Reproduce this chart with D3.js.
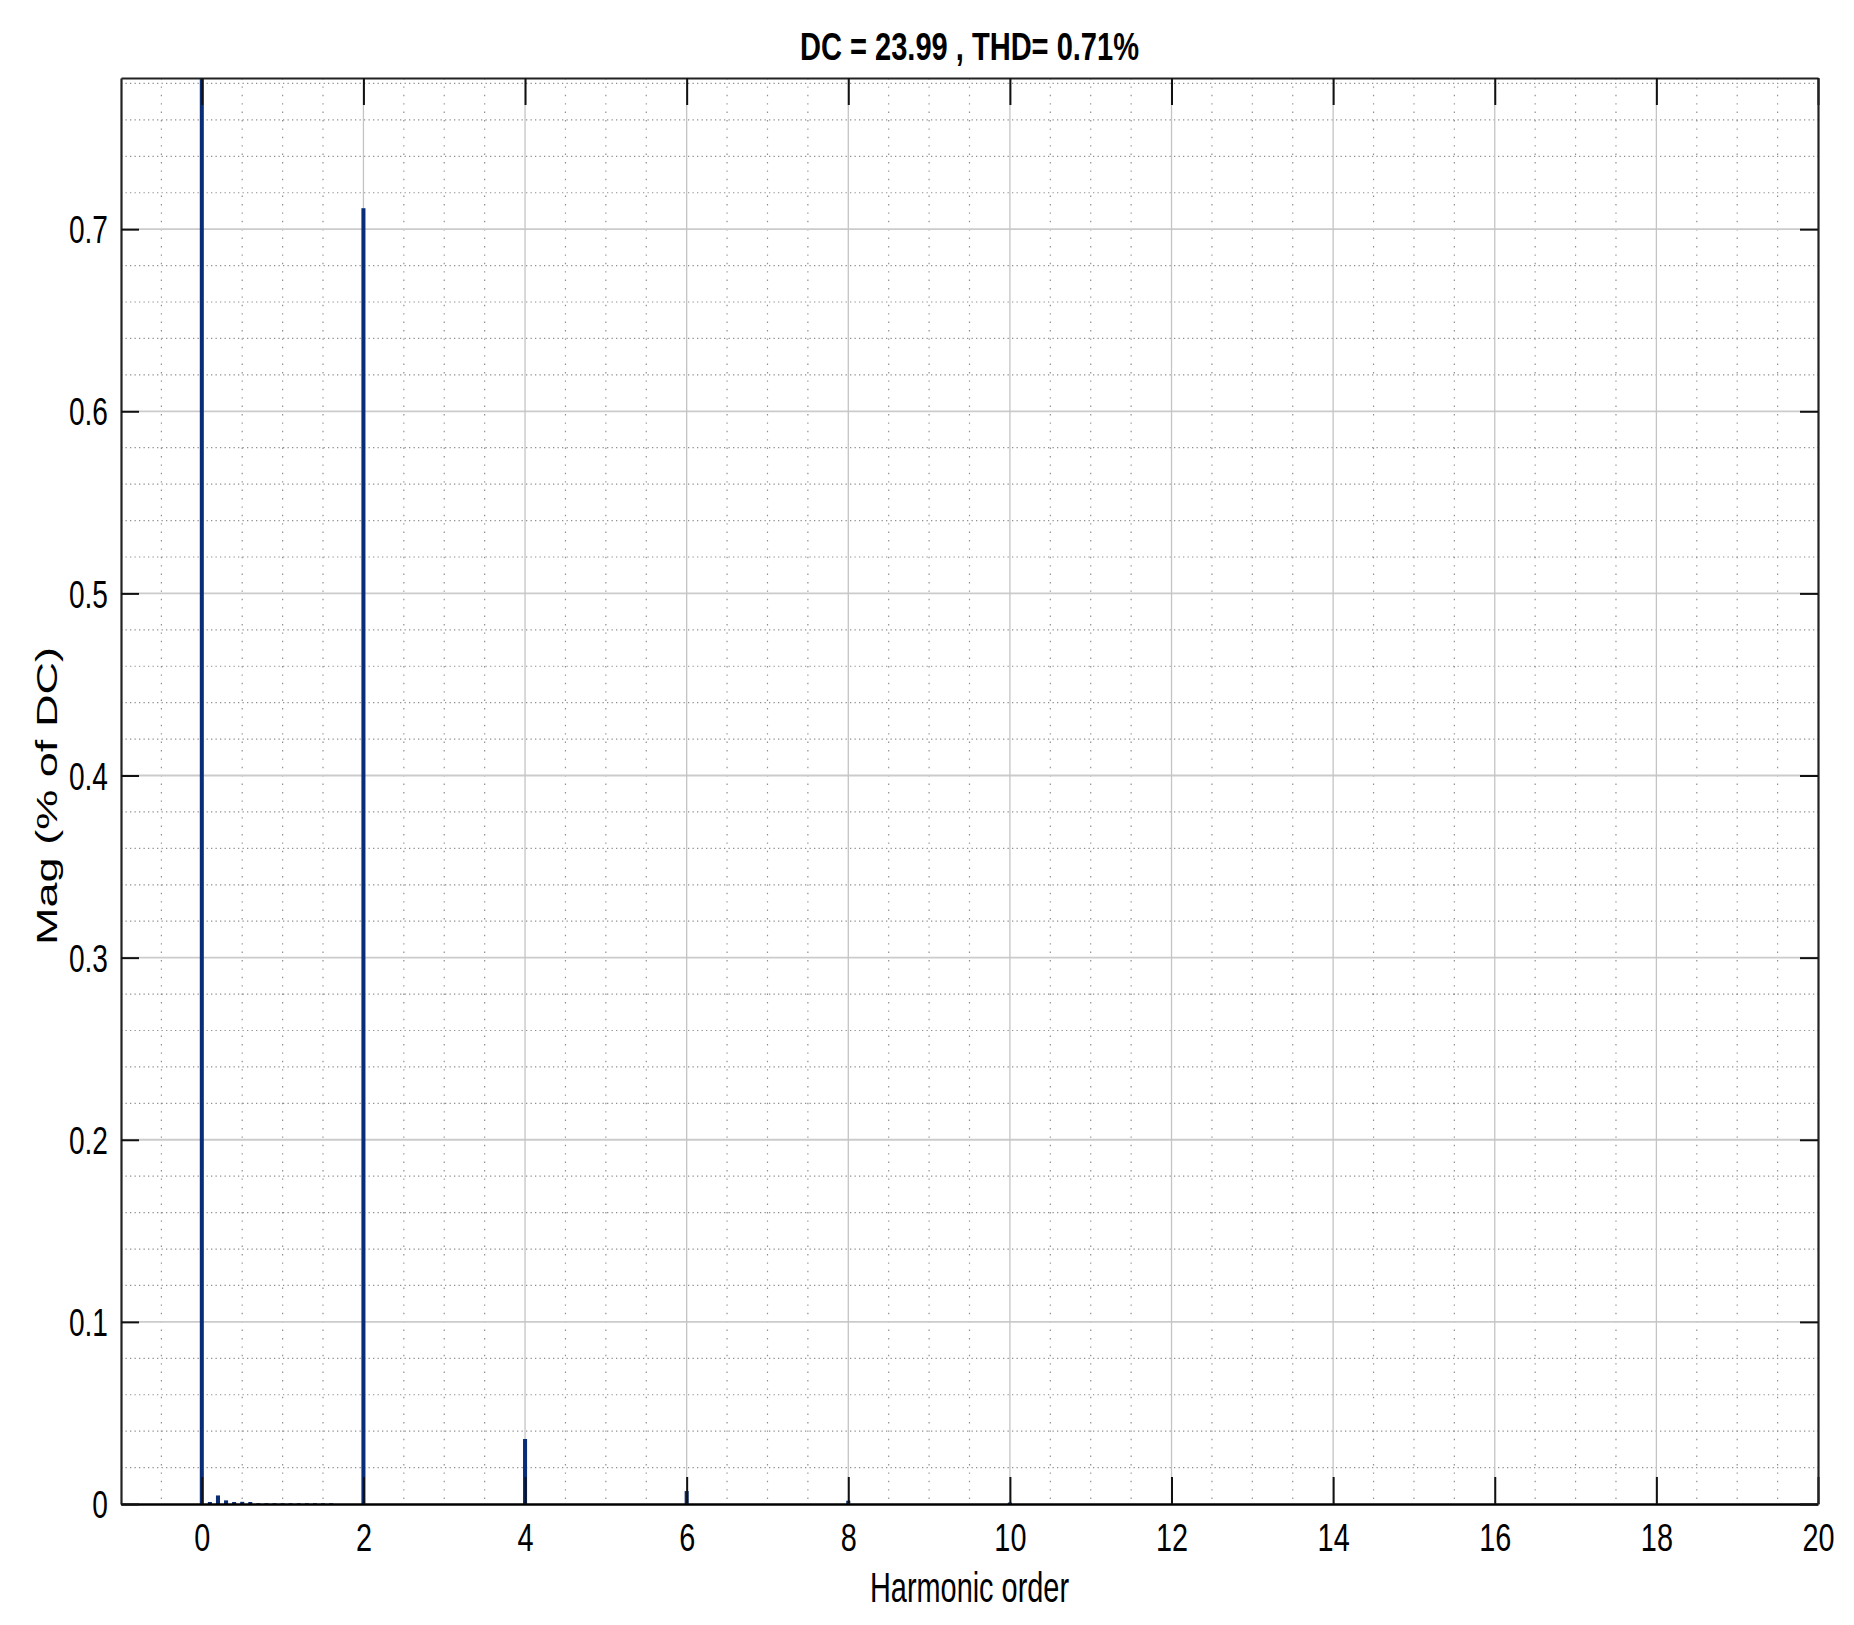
<!DOCTYPE html>
<html>
<head>
<meta charset="utf-8">
<script src="https://cdn.jsdelivr.net/npm/d3@7"></script>
<style>
  html, body { margin: 0; padding: 0; background: #fff; }
  svg { display: block; font-family: "Liberation Sans", Arial, sans-serif; }
</style>
</head>
<body>
<svg id="chart"></svg>
<script>
// harmonic spectrum, magnitude in % of DC
const harmonicOrder = [0, 0.1, 0.2, 0.3, 0.4, 0.5, 0.6, 0.7, 0.8, 0.9, 1.0,
  1.1, 1.2, 1.3, 1.4, 1.5, 1.6, 2, 4, 6, 8, 10];
const magnitude = [100, 0.0011, 0.0047, 0.002, 0.0011, 0.0012, 0.0011, 0.0004, 0.0004, 0.0004, 0.0004,
  0.0004, 0.0004, 0.0004, 0.0004, 0.0004, 0.0004, 0.7115, 0.0357, 0.0071, 0.0018, 0.0008];

const xTickValues = [0, 2, 4, 6, 8, 10, 12, 14, 16, 18, 20];
const yTickValues = [0, 0.1, 0.2, 0.3, 0.4, 0.5, 0.6, 0.7];
const yTickLabels = ['0', '0.1', '0.2', '0.3', '0.4', '0.5', '0.6', '0.7'];

const titleText = 'DC = 23.99 , THD= 0.71%';
const xLabel = 'Harmonic order';
const yLabel = 'Mag (% of DC)';

const W = 1854, H = 1625;
const margin = { top: 78, right: 36, bottom: 121, left: 121 };
const plotW = W - margin.left - margin.right;
const plotH = H - margin.top - margin.bottom;
const squeeze = 0.74;   // narrow look of the original fonts

const svg = d3.select('#chart')
  .attr('width', W)
  .attr('height', H);

svg.append('rect').attr('width', W).attr('height', H).attr('fill', '#fff');

const g = svg.append('g')
  .attr('transform', `translate(${margin.left},${margin.top})`);

const x = d3.scaleLinear().domain([-1, 20]).range([0, plotW]);
const y = d3.scaleLinear().domain([0, 0.783]).range([plotH, 0]);

// minor grid (dotted)
const xMinor = d3.range(-0.5, 20, 0.5).filter(v => Math.abs(v % 2) > 1e-9);
const yMinor = d3.range(0.02, 0.783, 0.02).filter(v => Math.abs(Math.round(v * 10) - v * 10) > 1e-6);

g.append('g').selectAll('line')
  .data(yMinor)
  .enter().append('line')
  .attr('x1', 0).attr('x2', plotW)
  .attr('y1', d => y(d)).attr('y2', d => y(d))
  .attr('stroke', '#8f8f8f').attr('stroke-width', 1.2)
  .attr('stroke-dasharray', '1.3,3.2');

g.append('g').selectAll('line')
  .data(xMinor)
  .enter().append('line')
  .attr('x1', d => x(d)).attr('x2', d => x(d))
  .attr('y1', 0).attr('y2', plotH)
  .attr('stroke', '#8f8f8f').attr('stroke-width', 1.2)
  .attr('stroke-dasharray', '1.4,7');

// major grid
g.append('g').selectAll('line')
  .data(yTickValues.filter(d => d > 0))
  .enter().append('line')
  .attr('x1', 0).attr('x2', plotW)
  .attr('y1', d => y(d)).attr('y2', d => y(d))
  .attr('stroke', '#cbcbcb').attr('stroke-width', 1.8);

g.append('g').selectAll('line')
  .data(xTickValues.filter(d => d < 20))
  .enter().append('line')
  .attr('x1', d => x(d)).attr('x2', d => x(d))
  .attr('y1', 0).attr('y2', plotH)
  .attr('stroke', '#c4c4c4').attr('stroke-width', 1.3);

// bars
svg.append('clipPath').attr('id', 'plot-clip')
  .append('rect').attr('width', plotW).attr('height', plotH);

const barW = x(0.05) - x(0);
g.append('g')
  .attr('clip-path', 'url(#plot-clip)')
  .selectAll('rect')
  .data(harmonicOrder.map((h, i) => ({ h, m: magnitude[i] })))
  .enter().append('rect')
  .attr('x', d => x(d.h) - barW / 2)
  .attr('y', d => y(d.m))
  .attr('width', barW)
  .attr('height', d => plotH - y(d.m))
  .attr('fill', '#0a2d78');

// axes: inward ticks on all four sides
const xBottom = g.append('g')
  .attr('transform', `translate(0,${plotH})`)
  .call(d3.axisBottom(x).tickValues(xTickValues).tickSizeInner(-27).tickSizeOuter(0).tickPadding(19));
const xTop = g.append('g')
  .call(d3.axisTop(x).tickValues(xTickValues).tickSizeInner(-27).tickSizeOuter(0).tickFormat(''));
const yLeft = g.append('g')
  .call(d3.axisLeft(y).tickValues(yTickValues).tickSizeInner(-18).tickSizeOuter(0)
    .tickFormat((d, i) => yTickLabels[i]));
const yRight = g.append('g')
  .attr('transform', `translate(${plotW},0)`)
  .call(d3.axisRight(y).tickValues(yTickValues).tickSizeInner(-18).tickSizeOuter(0).tickFormat(''));

[xBottom, xTop, yLeft, yRight].forEach(a => {
  a.select('.domain').attr('stroke', '#222').attr('stroke-width', 2.2);
  a.selectAll('.tick line').attr('stroke', '#111').attr('stroke-width', 2);
});
xBottom.select('.domain').attr('stroke', '#000').attr('stroke-width', 2.6);

xBottom.selectAll('.tick text')
  .attr('fill', '#000')
  .attr('font-size', 39)
  .attr('transform', `scale(${squeeze},1)`);

yLeft.selectAll('.tick text')
  .attr('fill', '#000')
  .attr('font-size', 38)
  .attr('x', 0)
  .attr('dy', '0.36em')
  .attr('transform', `translate(-13,0) scale(${squeeze},1)`);

// title and axis labels
svg.append('text')
  .attr('x', margin.left + plotW / 2)
  .attr('y', 60)
  .attr('text-anchor', 'middle')
  .attr('font-size', 38)
  .attr('font-weight', 'bold')
  .attr('textLength', 339)
  .attr('lengthAdjust', 'spacingAndGlyphs')
  .text(titleText);

svg.append('text')
  .attr('x', margin.left + plotW / 2)
  .attr('y', 1602)
  .attr('text-anchor', 'middle')
  .attr('font-size', 42)
  .attr('textLength', 199)
  .attr('lengthAdjust', 'spacingAndGlyphs')
  .text(xLabel);

svg.append('text')
  .attr('transform', 'translate(57,796) rotate(-90)')
  .attr('text-anchor', 'middle')
  .attr('font-size', 30)
  .attr('textLength', 298)
  .attr('lengthAdjust', 'spacingAndGlyphs')
  .text(yLabel);
</script>
</body>
</html>
